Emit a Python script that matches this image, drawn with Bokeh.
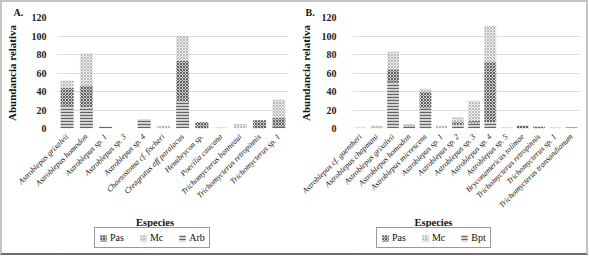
import math
from bokeh.plotting import figure
from bokeh.models import ColumnDataSource, FactorRange, Range1d, Legend, LegendItem, Label
from bokeh.layouts import row, column
from bokeh.embed import file_html
from bokeh.resources import INLINE

# ---- Data ----
a_species = ["Astroblepus grixalvii", "Astroblepus homodon", "Astroblepus sp. 1",
             "Astroblepus sp. 3", "Astroblepus sp. 4", "Chaetostoma cf. fischeri",
             "Creagrutus aff paralacus", "Hemibrycon sp.", "Poecilia caucana",
             "Trichomycterus banneaui", "Trichomycterus retropinnis", "Trichomycterus sp. 1"]
a_arb = [24, 23, 2, 0, 10, 0, 29, 0, 0, 0, 0, 2]
a_pas = [20, 23, 0, 0, 0, 0, 44, 7, 0, 0, 9, 10]
a_mc = [8, 35, 0, 0, 0, 3, 27, 0, 1, 5, 0, 19]

b_species = ["Astroblepus cf. guentheri", "Astroblepus chapmani", "Astroblepus grixalvii",
             "Astroblepus homodon", "Astroblepus micrescens", "Astroblepus sp. 1",
             "Astroblepus sp. 2", "Astroblepus sp. 3", "Astroblepus sp. 4",
             "Astroblepus sp. 5", "Bryconamericus tolimae", "Trichomycterus retropinnis",
             "Trichomycterus sp. 1", "Trichomycterus transandianum"]
b_bpt = [0, 1, 50, 3, 22, 0, 4, 6, 7, 0, 0, 0, 0, 1]
b_pas = [0, 0, 14, 1, 18, 0, 3, 2, 65, 0, 3, 2, 0, 0]
b_mc = [1, 2, 19, 1, 3, 3, 5, 22, 39, 1, 0, 0, 1, 0]

y_ticks = [0, 20, 40, 60, 80, 100, 120]

SERIF = "Liberation Serif"
ROLES = ("bottom", "middle", "top")
STYLE = {
    "bottom": dict(fill_color="#d6d6d6", hatch_pattern="horizontal_line", hatch_color="#646464",
                   hatch_scale=3, hatch_weight=1.2),
    "middle": dict(fill_color="#d0d0d0", hatch_pattern="diagonal_cross", hatch_color="#606060",
                   hatch_scale=3, hatch_weight=1.0),
    "top": dict(fill_color="#f2f2f2", hatch_pattern="diagonal_cross", hatch_color="#b8b8b8",
                hatch_scale=3, hatch_weight=1.0),
}

W = 292
H_MAIN = 214
H_BOT = 37


def make_panel(tag, species, bottom, middle, top, names, bl, br, bar_w,
               leg_x, esp_x, tag_off, tick_standoff, label_standoff):
    src = ColumnDataSource(dict(sp=species, bottom=bottom, middle=middle, top=top))
    p = figure(x_range=FactorRange(*species), y_range=Range1d(0, 120),
               width=W, height=H_MAIN, output_backend="svg", toolbar_location=None,
               min_border_left=bl, min_border_right=br, min_border_top=15,
               min_border_bottom=88)
    p.outline_line_color = None
    p.border_fill_color = "white"
    p.vbar_stack(["bottom", "middle", "top"], x="sp", width=bar_w, source=src,
                 line_color=None,
                 **{k: [STYLE[r][k] for r in ROLES] for k in STYLE["bottom"]})

    p.title.text = tag
    p.title.align = "left"
    p.title.offset = tag_off
    p.title.standoff = 0
    p.title.text_font = SERIF
    p.title.text_font_style = "bold"
    p.title.text_font_size = "10px"
    p.title.text_color = "#111111"

    p.xgrid.grid_line_color = None
    p.ygrid.grid_line_color = "#dcdcdc"
    p.yaxis.ticker = y_ticks
    for ax in (p.xaxis, p.yaxis):
        ax.axis_line_color = None
        ax.major_tick_line_color = None
        ax.minor_tick_line_color = None
    p.yaxis.major_label_text_font = SERIF
    p.yaxis.major_label_text_font_style = "bold"
    p.yaxis.major_label_text_font_size = "10px"
    p.yaxis.major_label_text_color = "#222222"
    p.yaxis.major_label_standoff = tick_standoff
    p.yaxis.axis_label = "Abundancia relativa"
    p.yaxis.axis_label_text_font = SERIF
    p.yaxis.axis_label_text_font_style = "bold"
    p.yaxis.axis_label_text_font_size = "11px"
    p.yaxis.axis_label_text_color = "#111111"
    p.yaxis.axis_label_standoff = label_standoff

    p.xaxis.major_label_orientation = math.pi / 4
    p.xaxis.major_label_text_font = SERIF
    p.xaxis.major_label_text_font_style = "italic"
    p.xaxis.major_label_text_font_size = "8px"
    p.xaxis.major_label_text_color = "#111111"
    p.xaxis.major_label_standoff = 1

    # bottom strip (its frame is aligned with the main frame): axis title and legend
    fw = W - bl - br
    q = figure(x_range=Range1d(0, fw), y_range=Range1d(0, H_BOT), width=W, height=H_BOT,
               output_backend="svg", toolbar_location=None, min_border=0,
               min_border_left=bl, min_border_right=br,
               x_axis_type=None, y_axis_type=None)
    q.outline_line_color = None
    q.xgrid.grid_line_color = None
    q.ygrid.grid_line_color = None
    dummy = {}
    for r in ROLES:
        dummy[r] = q.vbar(x=[-1000], top=[1], width=1, line_color=None, **STYLE[r])
    q.add_layout(Label(x=esp_x, y=H_BOT - 5.5, text="Especies", text_font=SERIF,
                       text_font_style="bold", text_font_size="10.5px",
                       text_baseline="middle", text_align="center", text_color="#111111"))
    legend = Legend(items=[LegendItem(label=names[0], renderers=[dummy["middle"]]),
                           LegendItem(label=names[1], renderers=[dummy["top"]]),
                           LegendItem(label=names[2], renderers=[dummy["bottom"]])],
                    location=(leg_x, 5), orientation="horizontal",
                    label_text_font=SERIF, label_text_font_size="10px",
                    label_text_color="#111111",
                    glyph_width=8, glyph_height=8, label_standoff=3, spacing=15,
                    padding=4, margin=0, label_height=8, label_width=10,
                    border_line_color="#333333", border_line_width=1,
                    background_fill_color="white", background_fill_alpha=1)
    q.add_layout(legend, "center")
    return column(p, q, spacing=0)


pA = make_panel("A.", a_species, a_arb, a_pas, a_mc, ["Pas", "Mc", "Arb"],
                bl=54, br=6, bar_w=0.67, leg_x=37, esp_x=98, tag_off=-44,
                tick_standoff=5, label_standoff=11)
pB = make_panel("B.", b_species, b_bpt, b_pas, b_mc, ["Pas", "Mc", "Bpt"],
                bl=58, br=7, bar_w=0.72, leg_x=24, esp_x=81, tag_off=-47,
                tick_standoff=10, label_standoff=7)

layout = row(pA, pB, spacing=0,
             styles={"border-top": "2px solid #c4c4c4", "border-left": "2px solid #c4c4c4",
                     "border-right": "2px solid #c4c4c4", "border-bottom": "2px solid #6e6e6e"})

open("out.html", "w").write(file_html(layout, INLINE))
